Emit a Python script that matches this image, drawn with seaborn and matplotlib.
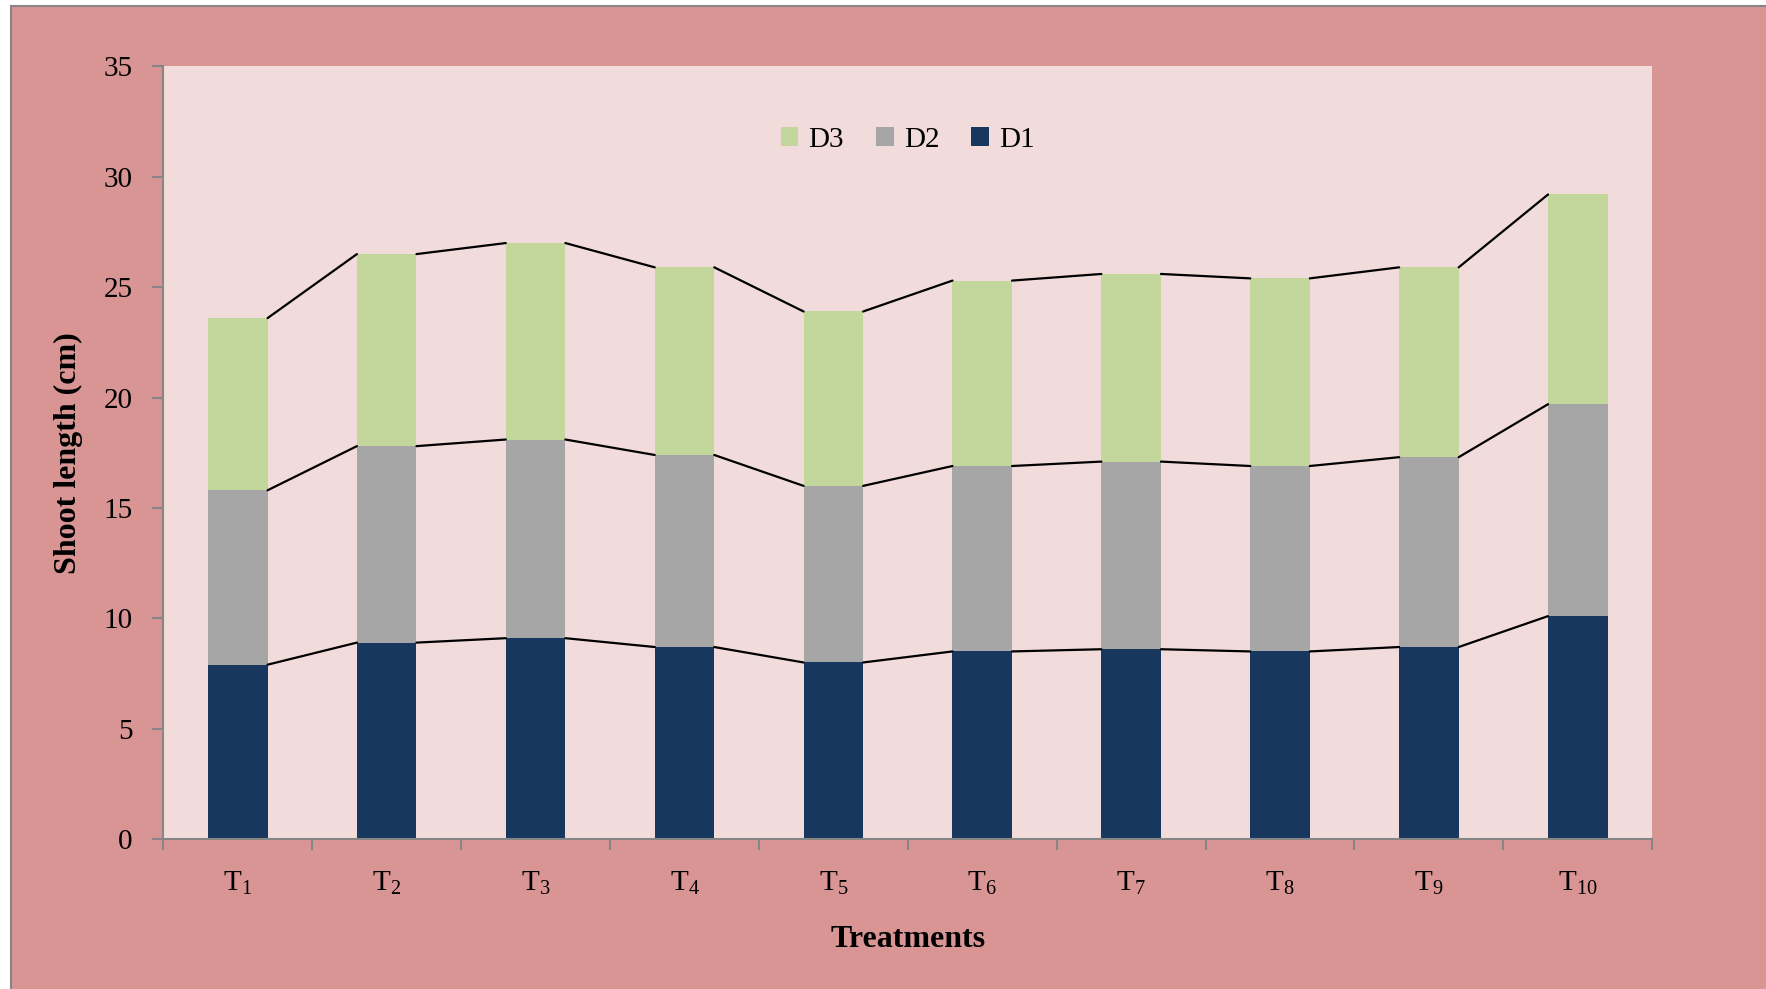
import numpy as np
import pandas as pd
import matplotlib
matplotlib.use("Agg")
import matplotlib.pyplot as plt
from matplotlib.patches import Patch, Rectangle
import seaborn as sns

# ── data (segment heights of each stacked bar) ────────────────────────────────
treatments = ["T1", "T2", "T3", "T4", "T5", "T6", "T7", "T8", "T9", "T10"]
tick_labels = [r"T$_{\mathrm{%s}}$" % t[1:] for t in treatments]
d1 = [7.9, 8.9, 9.1, 8.7, 8.0, 8.5, 8.6, 8.5, 8.7, 10.1]
d2 = [7.9, 8.9, 9.0, 8.7, 8.0, 8.4, 8.5, 8.4, 8.6, 9.6]
d3 = [7.8, 8.7, 8.9, 8.5, 7.9, 8.4, 8.5, 8.5, 8.6, 9.5]

# Excel-ish colours
C_D1 = "#17375E"
C_D2 = "#A6A6A6"
C_D3 = "#C3D69B"
OUTER = "#D99594"
INNER = "#F2DCDB"
AXIS = "#868686"

sns.set_theme(style="white")
plt.rcParams["font.family"] = ["Liberation Serif", "DejaVu Serif"]
plt.rcParams["mathtext.fontset"] = "custom"
plt.rcParams["mathtext.rm"] = "Liberation Serif"
plt.rcParams["text.color"] = "black"
plt.rcParams["axes.labelcolor"] = "black"
plt.rcParams["xtick.labelcolor"] = "black"
plt.rcParams["ytick.labelcolor"] = "black"

cum1 = np.array(d1)
cum2 = cum1 + np.array(d2)
cum3 = cum2 + np.array(d3)
df = pd.DataFrame({"treat": treatments, "c1": cum1, "c2": cum2, "c3": cum3})

fig = plt.figure(figsize=(17.66, 9.89), dpi=100)
fig.patch.set_facecolor("white")
fig.patches.append(Rectangle((11 / 1766, -0.01), 1, 1.01 - 6 / 989, transform=fig.transFigure,
                             facecolor=OUTER, edgecolor=AXIS, linewidth=1.5, zorder=-10))
ax = fig.add_axes([0.0925, 0.1516, 0.9356 - 0.0925, 0.9328 - 0.1516])
ax.set_facecolor(INNER)

W = 0.4
# draw cumulative totals back-to-front to get stacked look
for col, color in [("c3", C_D3), ("c2", C_D2), ("c1", C_D1)]:
    sns.barplot(data=df, x="treat", y=col, color=color, width=W,
                saturation=1, linewidth=0, ax=ax)

# series lines between adjacent bars
for cum in (cum1, cum2, cum3):
    for i in range(len(cum) - 1):
        ax.plot([i + W / 2, i + 1 - W / 2], [cum[i], cum[i + 1]],
                color="black", linewidth=1.6, zorder=5)

ax.set_xlim(-0.5, len(treatments) - 0.5)
ax.set_ylim(0, 35)
ax.set_yticks(np.arange(0, 36, 5))
ax.tick_params(axis="y", labelsize=21, length=8, width=1.5, color=AXIS, direction="out",
               left=True, pad=14)
ax.set_xticks(range(len(treatments)))
ax.set_xticklabels(tick_labels, fontsize=21)
ax.tick_params(axis="x", which="major", length=0, pad=22)
ax.set_xticks(np.arange(-0.5, len(treatments), 1.0), minor=True)
ax.tick_params(axis="x", which="minor", length=8, width=1.5, color=AXIS, bottom=True)

for s in ("top", "right"):
    ax.spines[s].set_visible(False)
for s in ("left", "bottom"):
    ax.spines[s].set_color(AXIS)
    ax.spines[s].set_linewidth(1.5)

ax.set_xlabel("Treatments", fontsize=23, fontweight="bold", labelpad=20)
ax.set_ylabel("Shoot length (cm)", fontsize=23, fontweight="bold", labelpad=15)

handles = [Patch(facecolor=C_D3, edgecolor="none", label="D3"),
           Patch(facecolor=C_D2, edgecolor="none", label="D2"),
           Patch(facecolor=C_D1, edgecolor="none", label="D1")]
ax.legend(handles=handles, loc="center", bbox_to_anchor=(0.5, 0.905), ncol=3,
          frameon=False, fontsize=21, handlelength=0.6, handleheight=0.6,
          handletextpad=0.35, columnspacing=1.1)

fig.savefig("out.png", dpi=100)
